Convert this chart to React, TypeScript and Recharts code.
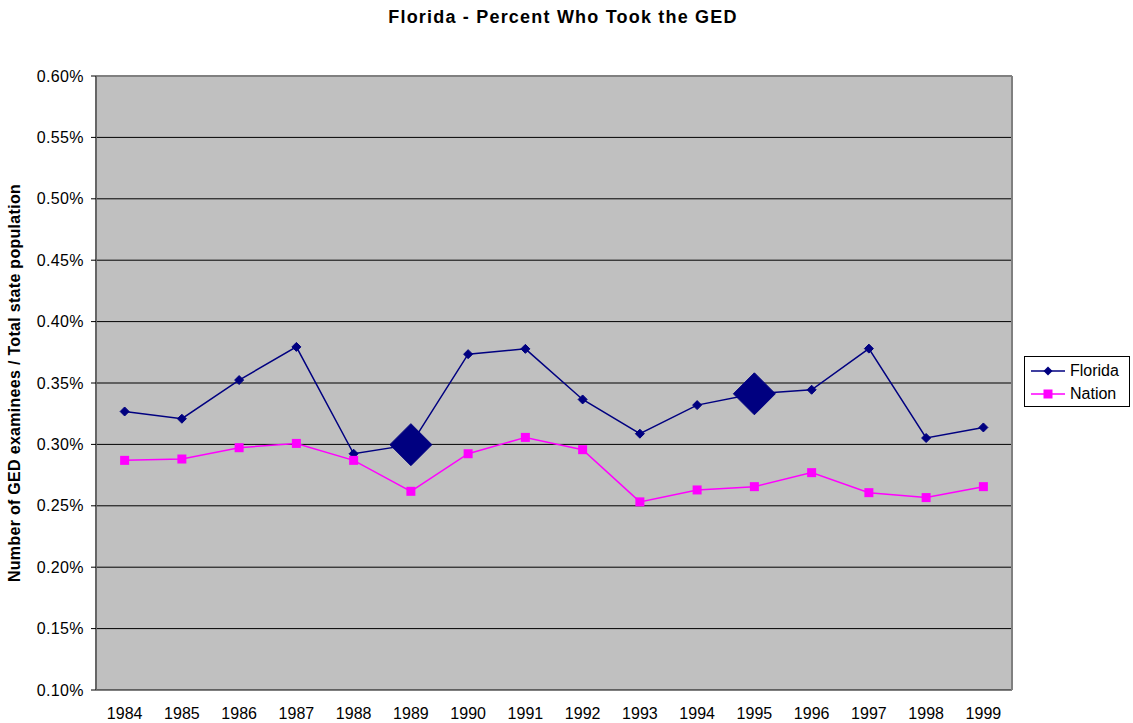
import React from 'react';
import { LineChart, Line, XAxis, YAxis, CartesianGrid, ReferenceLine } from 'recharts';

const years = ['1984','1985','1986','1987','1988','1989','1990','1991','1992','1993','1994','1995','1996','1997','1998','1999'];
const florida = [0.3268,0.3209,0.3524,0.3794,0.2924,0.2998,0.3735,0.3778,0.3366,0.3087,0.332,0.3412,0.3445,0.378,0.3052,0.3138];
const nation = [0.287,0.2881,0.2973,0.3008,0.287,0.2618,0.2924,0.3057,0.2957,0.2532,0.2629,0.2656,0.277,0.2607,0.2567,0.2656];
const highlightYears = ['1989','1995'];
const yTicks = [0.1,0.15,0.2,0.25,0.3,0.35,0.4,0.45,0.5,0.55,0.6];
const boundaryTicks = [0,1,2,3,4,5,6,7,8,9,10,11,12,13,14,15,16];

const data = years.map((y, i) => ({ year: y, Florida: florida[i], Nation: nation[i] }));

const NAVY = '#000080';
const MAGENTA = '#FF00FF';
const FONT = '"Liberation Sans", Arial, sans-serif';

const FloridaDot = (props: any) => {
  const { cx, cy, payload, index } = props;
  if (cx == null || cy == null) return null;
  const r = highlightYears.includes(payload.year) ? 21 : 4.5;
  return (
    <polygon
      key={'fd' + index}
      points={`${cx},${cy - r} ${cx + r},${cy} ${cx},${cy + r} ${cx - r},${cy}`}
      fill={NAVY}
      stroke={NAVY}
      strokeWidth={1}
    />
  );
};

const NationDot = (props: any) => {
  const { cx, cy, index } = props;
  if (cx == null || cy == null) return null;
  return <rect key={'nd' + index} x={cx - 4.5} y={cy - 4.5} width={9} height={9} fill={MAGENTA} />;
};

const LegendBox = () => (
  <div style={{ position: 'absolute', left: 1024, top: 356, border: '1px solid #000', background: '#fff', width: 106, height: 51, boxSizing: 'border-box', fontFamily: FONT, fontSize: 16, color: '#000', padding: '2px 0 0 6px' }}>
    <div style={{ display: 'flex', alignItems: 'center', height: 23 }}>
      <svg width={34} height={12} style={{ marginRight: 5 }}>
        <line x1={0} y1={6} x2={34} y2={6} stroke={NAVY} strokeWidth={1.5} />
        <polygon points="17,1.5 21.5,6 17,10.5 12.5,6" fill={NAVY} />
      </svg>
      <span>Florida</span>
    </div>
    <div style={{ display: 'flex', alignItems: 'center', height: 23 }}>
      <svg width={34} height={12} style={{ marginRight: 5 }}>
        <line x1={0} y1={6} x2={34} y2={6} stroke={MAGENTA} strokeWidth={1.5} />
        <rect x={12.5} y={1.5} width={9} height={9} fill={MAGENTA} />
      </svg>
      <span>Nation</span>
    </div>
  </div>
);

export default function App() {
  return (
    <div style={{ position: 'absolute', left: 0, top: 0, width: 1133, height: 723, background: '#fff', fontFamily: FONT }}>
      <div style={{ position: 'absolute', left: 0, top: 7, width: 1126, textAlign: 'center', fontWeight: 'bold', fontSize: 18, letterSpacing: 1.2, color: '#000', fontFamily: FONT }}>
        Florida - Percent Who Took the GED
      </div>
      <LineChart width={1133} height={723} data={data} margin={{ top: 76, right: 121, bottom: 3, left: 0 }}>
        <CartesianGrid xAxisId="b" fill="#C0C0C0" fillOpacity={1} vertical={false} stroke="#000" horizontal={true} />
        <XAxis
          xAxisId="b"
          type="number"
          dataKey={() => 0}
          domain={[0, 16]}
          ticks={boundaryTicks}
          interval={0}
          height={0}
          tickFormatter={() => ''}
          tickSize={5}
          tickLine={{ stroke: '#000' }}
          axisLine={{ stroke: '#555', strokeWidth: 1.5 }}
        />
        <XAxis
          xAxisId="c"
          dataKey="year"
          scale="band"
          height={30}
          interval={0}
          tickLine={false}
          axisLine={false}
          tickSize={5}
          tickMargin={13}
          tick={{ fill: '#000', fontSize: 16, fontFamily: FONT }}
        />
        <YAxis
          width={96}
          domain={[0.1, 0.6]}
          ticks={yTicks}
          interval={0}
          tickFormatter={(v: number) => v.toFixed(2) + '%'}
          tickSize={5}
          tickMargin={7}
          tickLine={{ stroke: '#000' }}
          axisLine={{ stroke: '#666', strokeWidth: 2 }}
          tick={{ fill: '#000', fontSize: 16, fontFamily: FONT, letterSpacing: 0.4 }}
          label={{ value: 'Number of GED examinees / Total state population', angle: -90, position: 'insideLeft', offset: 14, style: { textAnchor: 'middle', fontWeight: 'bold', fontSize: 16, letterSpacing: 0.3, fill: '#000', fontFamily: FONT } }}
        />
        <ReferenceLine xAxisId="b" y={0.6} stroke="#808080" strokeWidth={2} />
        <ReferenceLine xAxisId="b" x={16} stroke="#808080" strokeWidth={2} />
        <Line xAxisId="c" dataKey="Florida" stroke={NAVY} strokeWidth={1.5} dot={FloridaDot} activeDot={false} isAnimationActive={false} />
        <Line xAxisId="c" dataKey="Nation" stroke={MAGENTA} strokeWidth={1.5} dot={NationDot} activeDot={false} isAnimationActive={false} />
      </LineChart>
      <LegendBox />
    </div>
  );
}
